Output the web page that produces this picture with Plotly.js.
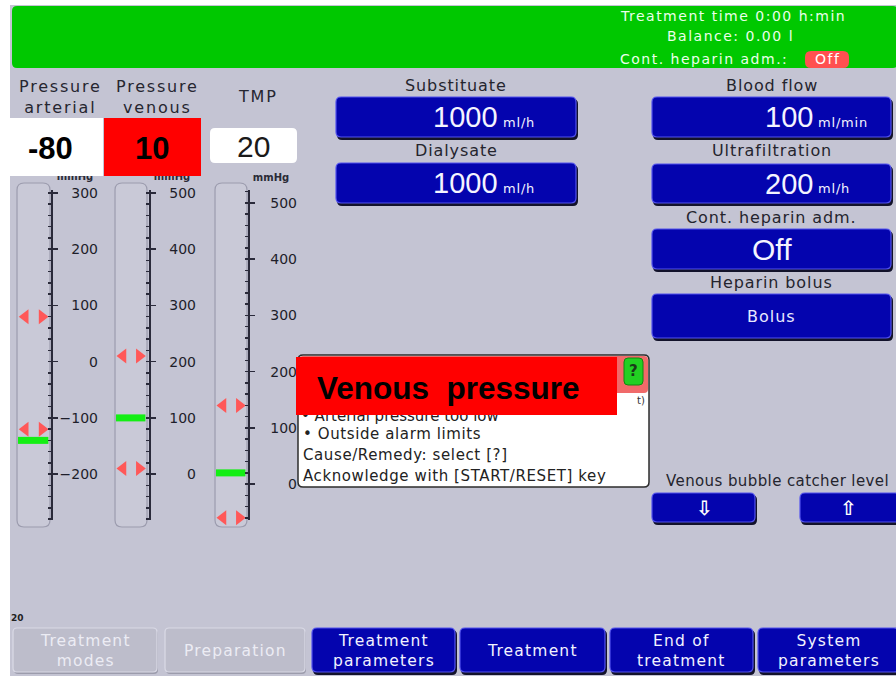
<!DOCTYPE html>
<html><head><meta charset="utf-8">
<script src="https://cdn.plot.ly/plotly-3.0.1.min.js"></script>
<style>html,body{margin:0;padding:0;background:#fff;overflow:hidden}#chart{width:896px;height:676px}</style>
</head><body><div id="chart"></div>
<script>
// ---------------- data ----------------
const gaugeNames = ['Pressure<br>arterial', 'Pressure<br>venous', 'TMP'];
const gaugeDisplay = ['-80', '10', '20'];
const gaugeLevels = [-140, 100, 20];
const gaugeUpperLimits = [80, 210, 140];
const gaugeLowerLimits = [-120, 10, -60];
const gaugeUnit = 'mmHg';
const paramLabels = ['Substituate', 'Dialysate', 'Blood flow', 'Ultrafiltration', 'Cont. heparin adm.', 'Heparin bolus'];
const paramValues = ['1000', '1000', '100', '200', 'Off', 'Bolus'];
const paramUnits = ['ml/h', 'ml/h', 'ml/min', 'ml/h', '', ''];
const statusLines = ['Treatment time 0:00 h:min', 'Balance: 0.00 l', 'Cont. heparin adm.:'];
const statusHeparin = 'Off';
const alarmTitle = 'Venous  pressure';
const alarmLines = ['• Arterial pressure too low', '• Outside alarm limits', 'Cause/Remedy: select [?]', 'Acknowledge with [START/RESET] key'];
const menuLabels = ['Treatment<br>modes', 'Preparation', 'Treatment<br>parameters', 'Treatment', 'End of<br>treatment', 'System<br>parameters'];
const menuActive = [false, false, true, true, true, true];
const bubbleLabel = 'Venous bubble catcher level';
const bubbleButtons = ['⇩', '⇧'];
const screenNumber = '20';

// ---------------- layout helpers ----------------
const W = 896, H = 676;
const shapes = [], annotations = [], traces = [];
const FONT = 'DejaVu Sans';
function rr(x0, y0, x1, y1, r) {
  return `M${x0 + r},${y0} L${x1 - r},${y0} Q${x1},${y0} ${x1},${y0 + r} L${x1},${y1 - r} Q${x1},${y1} ${x1 - r},${y1} L${x0 + r},${y1} Q${x0},${y1} ${x0},${y1 - r} L${x0},${y0 + r} Q${x0},${y0} ${x0 + r},${y0} Z`;
}
function addRect(x0, y0, x1, y1, r, fill, line, lw, layer) {
  shapes.push({type: 'path', path: rr(x0, y0, x1, y1, r), xref: 'x', yref: 'y', fillcolor: fill,
    line: {color: line || fill, width: lw || 0}, layer: layer || 'below'});
}
function ls(t, px) {
  return t.split('<br>').map(l => `<span style="letter-spacing:${px}px">${l}</span>`).join('<br>');
}
function ann(x, y, text, o) {
  o = o || {};
  annotations.push({x, y, xref: 'x', yref: 'y', text, showarrow: false,
    xanchor: o.xa || 'center', yanchor: o.ya || 'middle', align: o.align || 'center',
    font: {family: o.family || FONT, size: o.size || 15, color: o.color || '#1e1e28', weight: o.weight || 'normal'}});
}
function blueBtn(x0, y0, x1, y1) {
  addRect(x0 + 1, y0 + 2, x1 + 2, y1 + 3, 5, '#12122a', null, 0, 'above');
  addRect(x0, y0, x1, y1, 5, '#0404ae', '#5252ee', 1.2, 'above');
}
function grayBtn(x0, y0, x1, y1) {
  addRect(x0 + 1, y0 + 2, x1 + 1, y1 + 2, 4, '#9c9cac', null, 0, 'above');
  addRect(x0, y0, x1, y1, 4, '#bdbdcb', '#dadae6', 1.2, 'above');
}

// ---------------- screen background ----------------
addRect(10, 5, 896, 676, 0, '#c4c4d3');
addRect(12, 6, 898, 68, 5, '#00c800');
// status bar
ann(618, 16, ls(statusLines[0], 1.5), {xa: 'left', size: 14, color: '#eaffea'});
ann(665, 36, ls(statusLines[1], 1.5), {xa: 'left', size: 14, color: '#eaffea'});
ann(618, 59, ls(statusLines[2], 1.5), {xa: 'left', size: 14, color: '#eaffea'});
addRect(805, 51, 849, 68, 6, '#ff5050', null, 0, 'above');
ann(827, 59, ls(statusHeparin, 1.5), {size: 14, color: '#ffffff'});

// ---------------- gauges ----------------
const gaugeGeom = [
  {tube: [17, 50], line: 51, label: 98, cx: 60, range: [-281.6, 305.3]},
  {tube: [115, 147], line: 149, label: 196, cx: 157, range: [-81.6, 505.3]},
  {tube: [215, 247], line: 248, label: 297, cx: 258, range: [-63.8, 523.1]}
];
const layout = {
  width: W, height: H, margin: {l: 0, r: 0, t: 0, b: 0}, paper_bgcolor: '#ffffff', plot_bgcolor: 'rgba(0,0,0,0)',
  showlegend: false, hovermode: false,
  xaxis: {domain: [0, 1], range: [0, W], visible: false, fixedrange: true},
  yaxis: {domain: [0, 1], range: [H, 0], visible: false, fixedrange: true}
};
gaugeGeom.forEach((g, i) => {
  const n = i + 2, nl = i + 5;
  layout['xaxis' + n] = {domain: [g.tube[0] / W, g.tube[1] / W], range: [0, 1], visible: false, fixedrange: true, anchor: 'y' + n};
  layout['yaxis' + n] = {domain: [1 - 520 / H, 1 - 190 / H], range: g.range, autorange: false, anchor: 'free', position: g.line / W,
    side: 'right', showline: true, linecolor: '#2a2a3a', linewidth: 1.5, ticks: 'outside', ticklen: 5, tickwidth: 1.5,
    tickcolor: '#2a2a3a', tickmode: 'linear', tick0: 0, dtick: 100, showticklabels: false, showgrid: false, zeroline: false,
    minor: {dtick: 20, tick0: 0, ticks: 'inside', ticklen: 3, tickwidth: 1.5, tickcolor: '#2a2a3a', showgrid: false}, fixedrange: true};
  layout['yaxis' + nl] = {overlaying: 'y' + n, range: g.range, autorange: false, anchor: 'free', position: g.label / W, side: 'left',
    showline: false, ticks: '', tickmode: 'linear', tick0: 0, dtick: 100, showgrid: false, zeroline: false,
    tickfont: {family: FONT, size: 14, color: '#1e1e2a'}, fixedrange: true};
  // tube
  addRect(g.tube[0], 183, g.tube[1], 527, 7, '#c9c9d7', '#9c9cae', 1.2);
  // header
  ann(g.cx, i < 2 ? 97 : 96, ls(gaugeNames[i], 1.8), {size: 16, color: '#262630'});
  // level bar
  traces.push({type: 'scatter', xaxis: 'x' + n, yaxis: 'y' + n, x: [0.03, 0.95], y: [gaugeLevels[i], gaugeLevels[i]],
    mode: 'lines', line: {color: '#14ee14', width: 7}, cliponaxis: false, hoverinfo: 'skip'});
  // limit triangles
  traces.push({type: 'scatter', xaxis: 'x' + n, yaxis: 'y' + n, x: [0.25, 0.76, 0.25, 0.76],
    y: [gaugeUpperLimits[i], gaugeUpperLimits[i], gaugeLowerLimits[i], gaugeLowerLimits[i]], mode: 'markers',
    marker: {symbol: ['triangle-left', 'triangle-right', 'triangle-left', 'triangle-right'], size: 13, color: '#ff5858'},
    cliponaxis: false, hoverinfo: 'skip'});
  // dummy for label axis
  traces.push({type: 'scatter', xaxis: 'x' + n, yaxis: 'y' + nl, x: [0.5], y: [0], mode: 'markers', marker: {opacity: 0}, hoverinfo: 'skip'});
});
// mmHg units (partly hidden behind value boxes)
traces.push({type: 'scatter', x: [75, 172, 271], y: [177, 177, 178], mode: 'text', text: [gaugeUnit, gaugeUnit, gaugeUnit],
  textfont: {family: FONT, size: 10, color: '#2a2a36', weight: 'bold'}, hoverinfo: 'skip', cliponaxis: false});
// value boxes
addRect(0, 118, 103, 176, 0, '#ffffff', null, 0, 'above');
addRect(104, 118, 201, 176, 0, '#ff0000', null, 0, 'above');
addRect(210, 128, 297, 163, 5, '#ffffff', null, 0, 'above');
ann(50, 148, gaugeDisplay[0], {family: 'Liberation Sans', size: 31, color: '#000', weight: 'bold'});
ann(152, 148, gaugeDisplay[1], {family: 'Liberation Sans', size: 31, color: '#000', weight: 'bold'});
ann(253, 146, gaugeDisplay[2], {family: 'Liberation Sans', size: 30, color: '#1a1a1a'});

// ---------------- parameter buttons ----------------
const paramGeom = [
  {x0: 336, x1: 576, ly: 85, y0: 97, y1: 137},
  {x0: 336, x1: 576, ly: 150, y0: 163, y1: 203},
  {x0: 652, x1: 891, ly: 85, y0: 97, y1: 137},
  {x0: 652, x1: 891, ly: 150, y0: 164, y1: 203},
  {x0: 652, x1: 891, ly: 217, y0: 229, y1: 269},
  {x0: 652, x1: 891, ly: 282, y0: 294, y1: 338}
];
paramGeom.forEach((p, i) => {
  blueBtn(p.x0, p.y0, p.x1, p.y1);
  ann((p.x0 + p.x1) / 2, p.ly, ls(paramLabels[i], 0.9), {size: 16, color: '#24242e'});
  const cy = (p.y0 + p.y1) / 2;
  if (paramUnits[i]) {
    ann(p.x1 - 76, cy, paramValues[i], {xa: 'right', family: 'Liberation Sans', size: 29, color: '#f4f4ff'});
    ann(p.x1 - 75, cy + 5, ls(paramUnits[i], 0.8), {xa: 'left', size: 13, color: '#f4f4ff'});
  } else if (paramValues[i] === 'Off') {
    ann((p.x0 + p.x1) / 2, cy, paramValues[i], {family: 'Liberation Sans', size: 30, color: '#f4f4ff'});
  } else {
    ann((p.x0 + p.x1) / 2, cy, ls(paramValues[i], 1), {size: 16, color: '#e8e8ff'});
  }
});

// ---------------- alarm popup ----------------
addRect(298, 355, 649, 487, 5, '#ffffff', '#2c2c2c', 1.5);
addRect(299, 356, 648, 393, 4, '#f06a6a', null, 0);
addRect(624, 358, 643, 385, 4, '#22d022', '#118811', 1, 'above');
ann(633.5, 371, '?', {size: 15, color: '#1a3a1a', weight: 'bold'});
traces.push({type: 'scatter', x: [301], y: [417], mode: 'text', text: [alarmLines[0]], textposition: 'middle right',
  textfont: {family: FONT, size: 15, color: '#222'}, hoverinfo: 'skip', cliponaxis: false});
addRect(296, 357, 617, 415, 0, '#ff0000', null, 0, 'above');
ann(315, 388, alarmTitle, {xa: 'left', family: 'Liberation Sans', size: 31.5, color: '#000', weight: 'bold'});
ann(641, 400, 't)', {size: 10, color: '#333'});
ann(301, 434, ls(alarmLines[1], 0.6), {xa: 'left', size: 15, color: '#222'});
ann(301, 455, ls(alarmLines[2], 0.6), {xa: 'left', size: 15, color: '#222'});
ann(301, 476, ls(alarmLines[3], 0.6), {xa: 'left', size: 15, color: '#222'});

// ---------------- bubble catcher ----------------
ann(891, 481, ls(bubbleLabel, 0.4), {xa: 'right', size: 15, color: '#24242e'});
blueBtn(652, 493, 755, 522);
blueBtn(800, 493, 900, 522);
ann(704, 508, bubbleButtons[0], {size: 20, color: '#ffffff', weight: 'bold'});
ann(848, 508, bubbleButtons[1], {size: 20, color: '#ffffff', weight: 'bold'});

// ---------------- bottom menu ----------------
ann(17, 618, screenNumber, {size: 9, color: '#222', weight: 'bold'});
const menuGeom = [[13, 157], [165, 305], [312, 455], [460, 605], [610, 753], [758, 899]];
menuGeom.forEach((m, i) => {
  if (menuActive[i]) blueBtn(m[0], 628, m[1], 672); else grayBtn(m[0], 628, m[1], 672);
  ann((m[0] + m[1]) / 2, 651, ls(menuLabels[i], 1.2), {size: 15.5, color: menuActive[i] ? '#f2f2ff' : '#ececf4'});
});

traces.unshift({type: 'scatter', x: [0], y: [0], mode: 'markers', marker: {opacity: 0}, hoverinfo: 'skip'});
layout.shapes = shapes;
layout.annotations = annotations;
Plotly.newPlot('chart', traces, layout, {staticPlot: true, displayModeBar: false});
</script>
</body></html>
